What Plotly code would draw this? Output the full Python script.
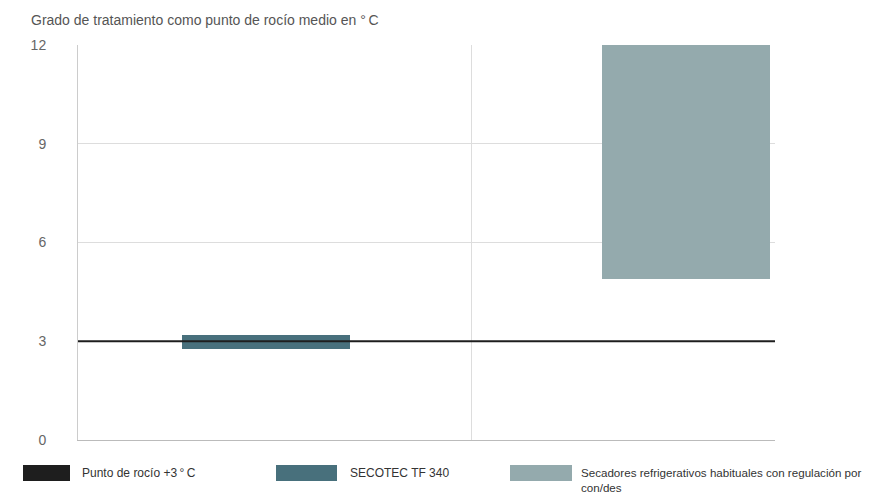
import plotly.graph_objects as go

# ---- data ----
categories = ["SECOTEC TF 340", "Secadores refrigerativos habituales con regulación por con/des"]
bar_low = [2.75, 4.9]
bar_high = [3.2, 12.0]
dew_point_ref = 3
y_ticks = [0, 3, 6, 9, 12]
legend_labels = ["Punto de rocío +3\u2009°\u2009C", "SECOTEC TF 340",
                 "Secadores refrigerativos habituales con regulación por<br>con/des"]
title_text = "Grado de tratamiento como punto de rocío medio en °\u2009C"

# ---- style ----
OFF = 8  # page body margin in the browser
W, H = 874 - OFF, 495 - OFF
L, R, T, B = 78, 775, 45, 440  # plot area in screen pixels
colors = ["#1e1e1e", "#48707c", "#94aaad"]
font = "Liberation Sans, Arial, Helvetica, sans-serif"
x_range = [-0.4487, 1.2108]

def px(x):
    return (x - L) / (R - L)

def py(y):
    return (B - y) / (B - T)

fig = go.Figure()

idx = list(range(len(categories)))

# reference line
fig.add_trace(go.Scatter(
    x=x_range, y=[dew_point_ref, dew_point_ref], mode="lines",
    line=dict(color=colors[0], width=2), showlegend=False, hoverinfo="skip",
    cliponaxis=False))

# floating bars
for i, cat in enumerate(categories):
    fig.add_trace(go.Bar(
        x=[idx[i]], y=[bar_high[i] - bar_low[i]], base=[bar_low[i]],
        width=0.4, marker=dict(color=colors[i + 1], line=dict(width=0)),
        name=cat, showlegend=False))

# manual legend
shapes = []
annotations = []
sw = [(23, 70, 81, 12), (276, 337, 349, 12), (510, 572, 580, 11.6)]
for (x0, x1, xt, fs), lab, c in zip(sw, legend_labels, colors):
    shapes.append(dict(type="rect", xref="paper", yref="paper",
                       x0=px(x0), x1=px(x1), y0=py(481), y1=py(465),
                       fillcolor=c, line=dict(width=0)))
    annotations.append(dict(xref="paper", yref="paper", x=px(xt), y=py(465),
                            xanchor="left", yanchor="top", align="left",
                            text=lab, showarrow=False, borderpad=0,
                            font=dict(family=font, size=fs, color="#333")))

annotations.append(dict(xref="paper", yref="paper", x=px(30), y=py(20),
                        xanchor="left", yanchor="middle", text=title_text,
                        showarrow=False, borderpad=0,
                        font=dict(family=font, size=14, color="#555")))

fig.update_layout(
    width=W, height=H,
    margin=dict(l=L - OFF, r=874 - R, t=T - OFF, b=495 - B, pad=0),
    paper_bgcolor="white", plot_bgcolor="white",
    font=dict(family=font, size=14, color="#666"),
    shapes=shapes, annotations=annotations,
    barmode="overlay", bargap=0,
    xaxis=dict(range=x_range, tickvals=[0.487], showticklabels=False,
               showgrid=True, gridcolor="#dddddd", gridwidth=1,
               zeroline=False, showline=True, linecolor="#bbbbbb", linewidth=1,
               fixedrange=True),
    yaxis=dict(range=[0, 12], tickvals=y_ticks, showgrid=True,
               gridcolor="#dddddd", gridwidth=1, zeroline=False,
               showline=True, linecolor="#cccccc", linewidth=1,
               ticks="", ticklabelstandoff=28,
               tickfont=dict(family=font, size=14, color="#666"),
               fixedrange=True),
)

fig.write_html("out.html")
